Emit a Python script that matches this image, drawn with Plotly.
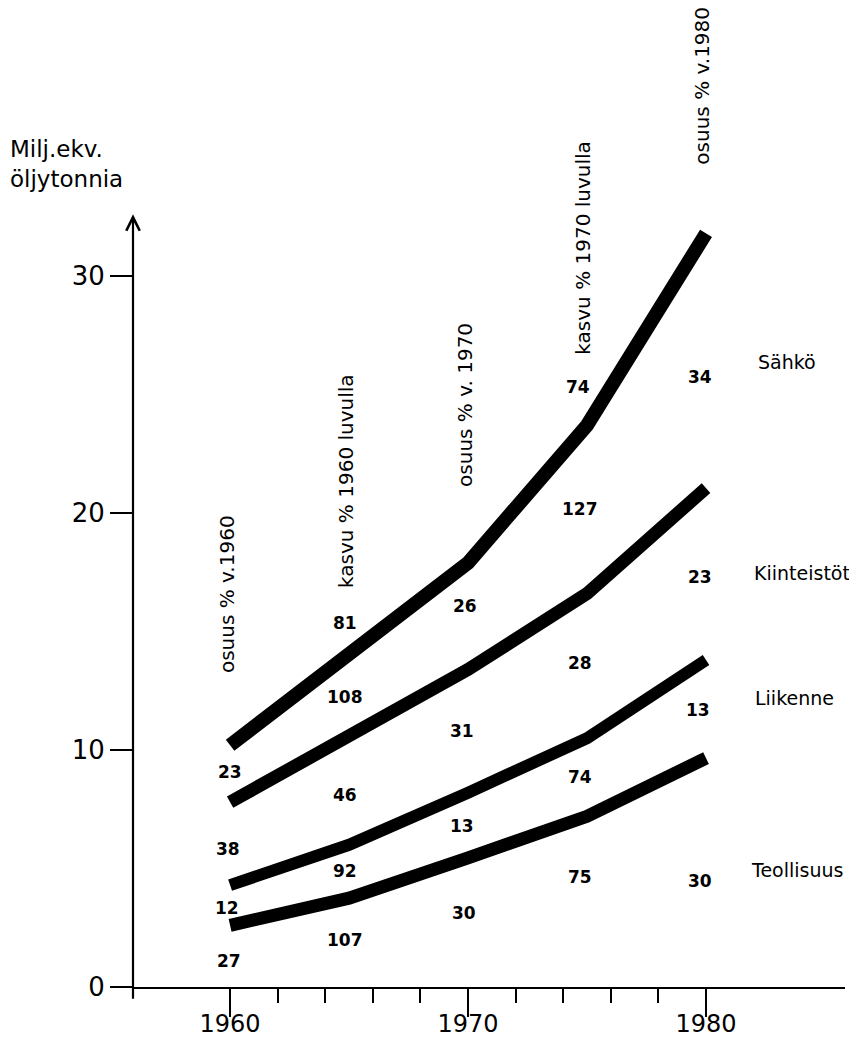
import plotly.graph_objects as go

# ---- data (cumulative energy use, million toe equiv.) ----
years = [1960, 1965, 1970, 1975, 1980]
sahko = [10.2, 14.0, 17.9, 23.7, 31.8]
kiinteistot = [7.8, 10.6, 13.4, 16.6, 21.05]
liikenne = [4.3, 6.0, 8.2, 10.5, 13.8]
teollisuus = [2.6, 3.75, 5.45, 7.2, 9.66]

series_names = ["Sähkö", "Kiinteistöt", "Liikenne", "Teollisuus"]
series_label_x = [1982.10, 1981.93, 1981.97, 1981.81]
series_label_y = [26.37, 17.47, 12.19, 4.94]

# inline numbers: (text, x, y)
num_text = ["23", "38", "12", "27",
            "81", "108", "46", "92", "107",
            "26", "31", "13", "30",
            "74", "127", "28", "74", "75",
            "34", "23", "13", "30"]
num_x = [1960.0, 1959.92, 1959.87, 1959.96,
         1964.83, 1964.83, 1964.83, 1964.83, 1964.83,
         1969.87, 1969.75, 1969.75, 1969.83,
         1974.62, 1974.71, 1974.71, 1974.71, 1974.71,
         1979.75, 1979.75, 1979.66, 1979.75]
num_y = [9.07, 5.82, 3.33, 1.10,
         15.36, 12.24, 8.10, 4.89, 1.98,
         16.08, 10.80, 6.79, 3.12,
         25.32, 20.17, 13.67, 8.86, 4.64,
         25.74, 17.30, 11.69, 4.47]

header_text = ["osuus % v.1960", "kasvu % 1960 luvulla", "osuus % v. 1970",
               "kasvu % 1970 luvulla", "osuus % v.1980"]
header_x = [1959.87, 1964.87, 1969.87, 1974.83, 1979.83]
header_py = [0.507, 0.653, 0.751, 0.954, 1.163]

x_ticks = [1960, 1970, 1980]
x_minor = [1962, 1964, 1966, 1968, 1972, 1974, 1976, 1978]
y_ticks = [0, 10, 20, 30]

FONT = "DejaVu Sans"

fig = go.Figure()
widths = [14, 13, 12, 13]
for name, vals, w in zip(series_names, [sahko, kiinteistot, liikenne, teollisuus], widths):
    fig.add_trace(go.Scatter(x=years, y=vals, mode="lines", name=name,
                             line=dict(color="black", width=w),
                             showlegend=False, hoverinfo="skip"))

ann = []
for t, x, y in zip(num_text, num_x, num_y):
    ann.append(dict(x=x, y=y, xref="x", yref="y", text="<b>%s</b>" % t, showarrow=False,
                    xanchor="center", yanchor="middle",
                    font=dict(family=FONT, size=17, color="black")))
for t, x, y in zip(series_names, series_label_x, series_label_y):
    ann.append(dict(x=x, y=y, xref="x", yref="y", text=t, showarrow=False,
                    xanchor="left", yanchor="middle",
                    font=dict(family=FONT, size=19, color="black")))
for t, x, y in zip(header_text, header_x, header_py):
    ann.append(dict(x=x, y=y, xref="x", yref="paper", text=t, showarrow=False,
                    textangle=-90, xanchor="center", yanchor="middle",
                    font=dict(family=FONT, size=20, color="black")))
# y-axis line with arrow head
ann.append(dict(x=1955.92, y=32.6, xref="x", yref="y", text="", showarrow=True,
                ax=0, ay=786, arrowhead=5, arrowsize=1.2, arrowwidth=2.2,
                arrowcolor="black", standoff=0))
# axis title
ann.append(dict(x=-0.1756, y=1.10, xref="paper", yref="paper",
                text="Milj.ekv.<br>öljytonnia", showarrow=False, align="left",
                xanchor="left", yanchor="top",
                font=dict(family=FONT, size=23, color="black")))

fig.update_layout(
    width=857, height=1042,
    margin=dict(l=125, r=20, t=204, b=63),
    paper_bgcolor="white", plot_bgcolor="white",
    annotations=ann,
    xaxis=dict(range=[1955.92, 1985.84], tickmode="array", tickvals=x_ticks,
               ticktext=[str(v) for v in x_ticks], automargin=False,
               ticks="outside", ticklen=28, tickwidth=2.2, tickcolor="black",
               ticklabelstandoff=-14,
               showline=True, linewidth=2.2, linecolor="black",
               showgrid=False, zeroline=False,
               tickfont=dict(family=FONT, size=24, color="black"),
               minor=dict(tickmode="array", tickvals=x_minor, ticks="outside",
                          ticklen=14, tickwidth=2, tickcolor="black", showgrid=False)),
    yaxis=dict(range=[0, 32.7], tickmode="array", tickvals=y_ticks, automargin=False,
               ticks="outside", ticklen=22, tickwidth=2.2, tickcolor="black",
               showline=False, showgrid=False, zeroline=False,
               tickfont=dict(family=FONT, size=26, color="black")),
)

fig.write_html("out.html")
